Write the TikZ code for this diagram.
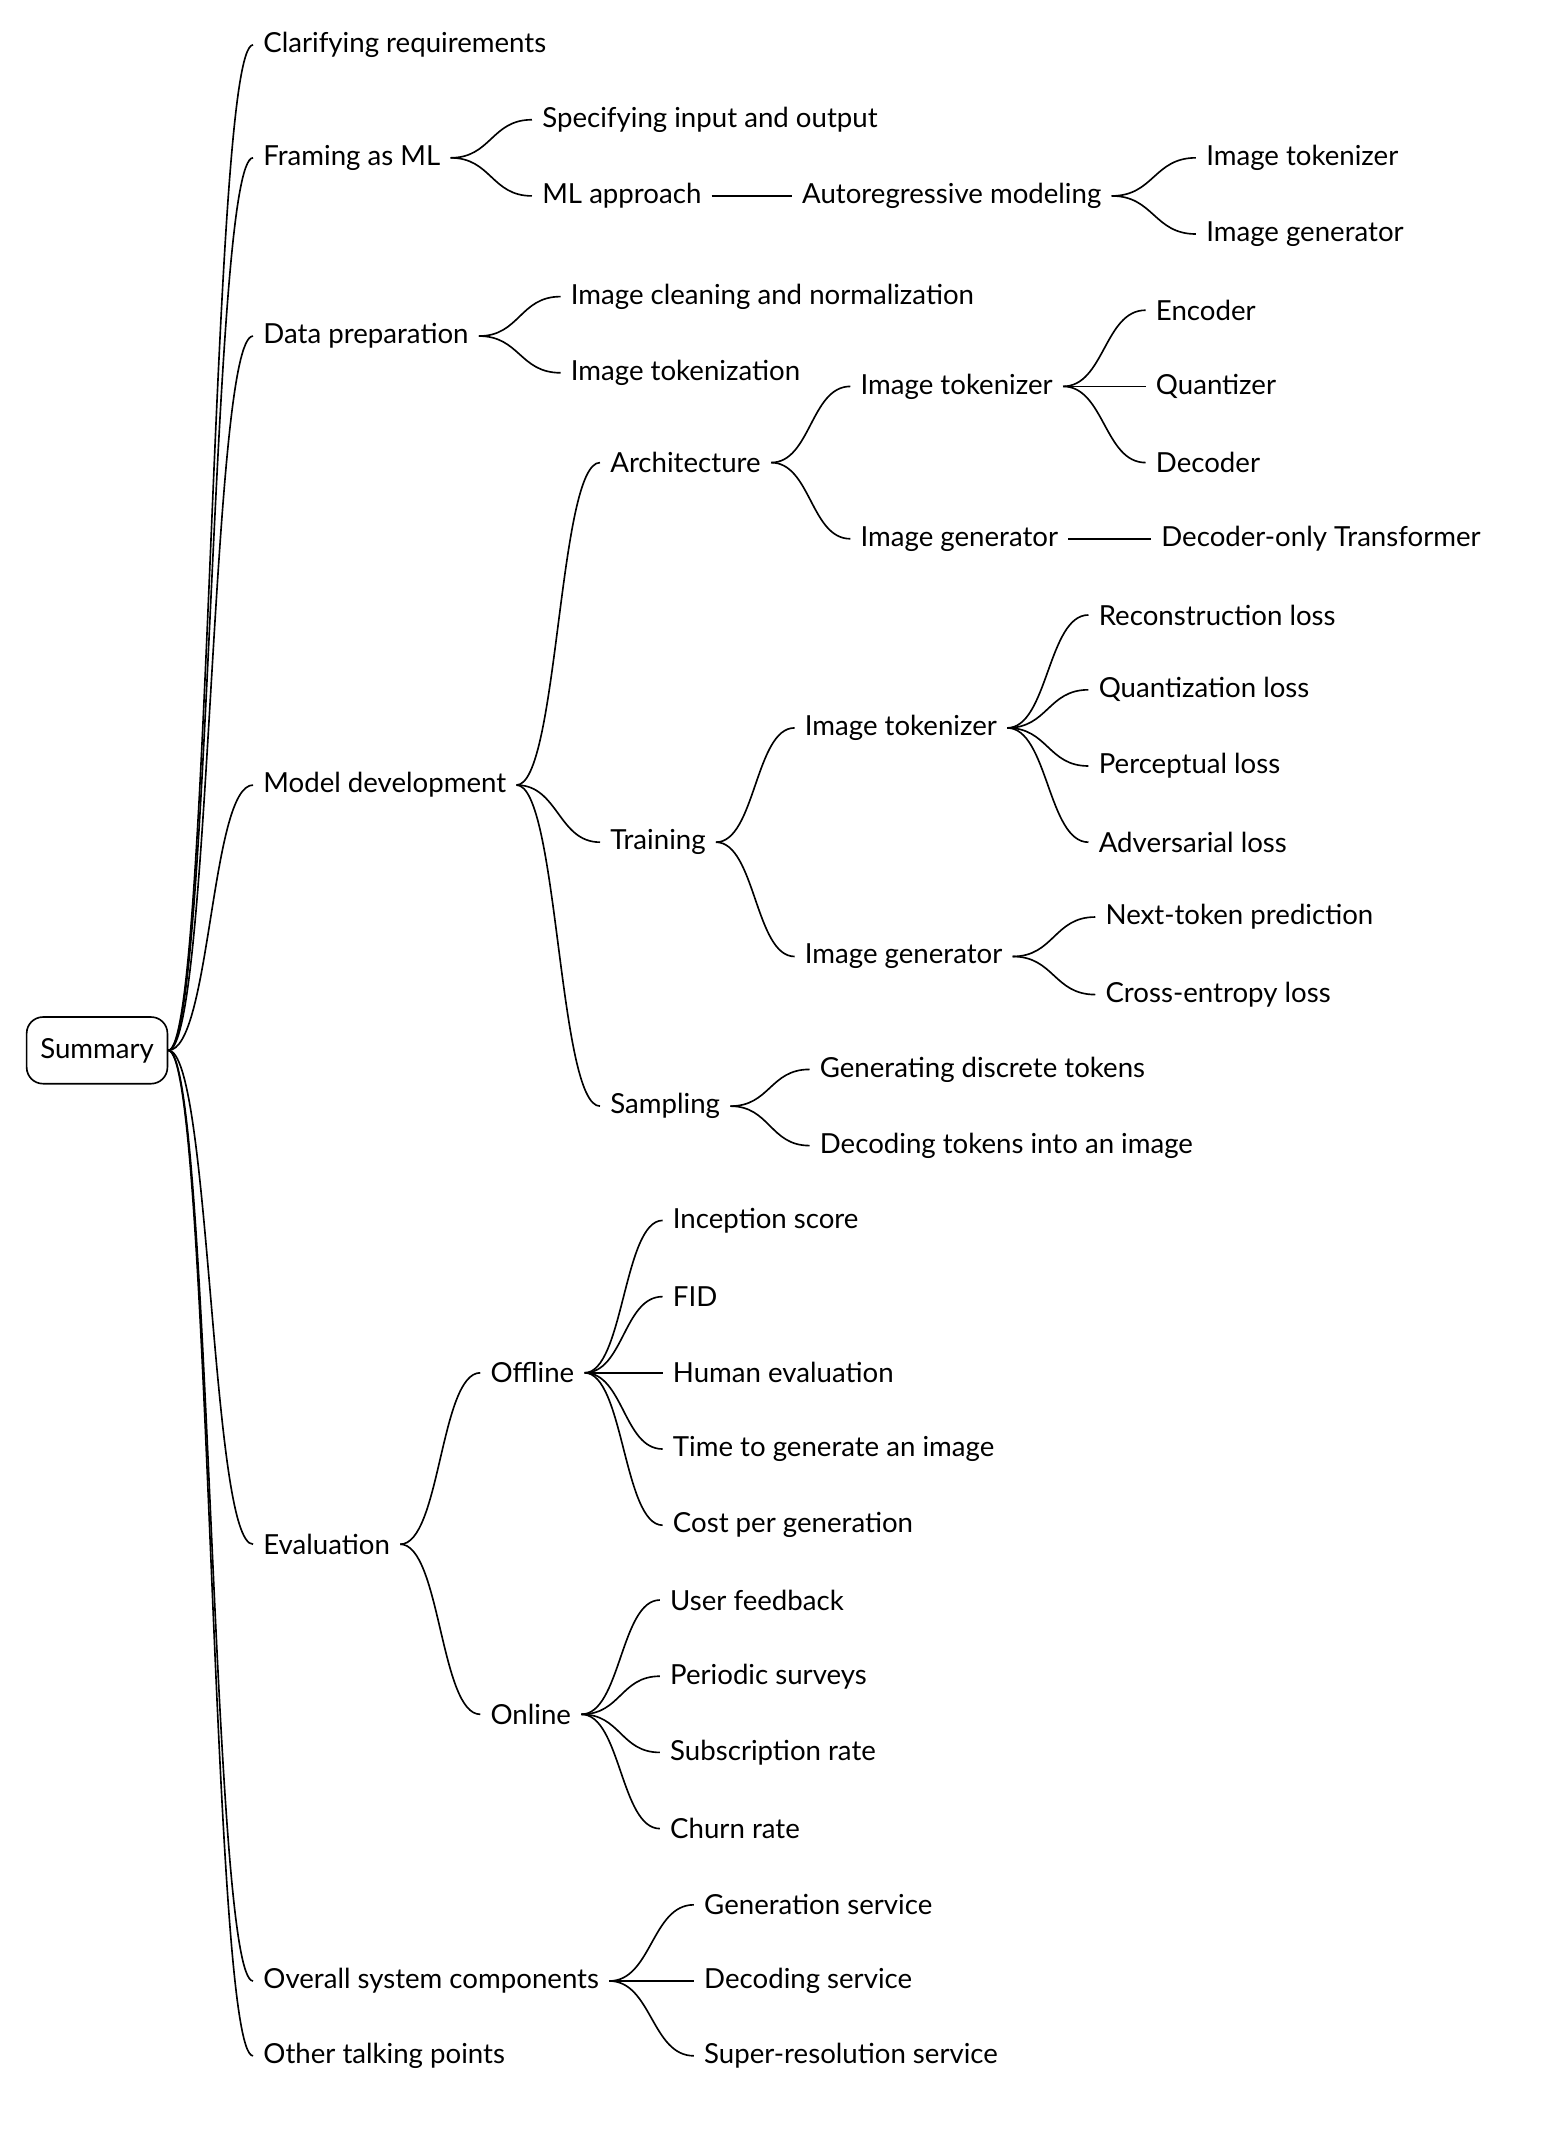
\documentclass[tikz,border=0pt]{standalone}
\usepackage{fontspec}
\setmainfont{Lato}
\usetikzlibrary{positioning,calc}

\begin{document}
\begin{tikzpicture}[x=1pt, y=1pt, line width = 1.2pt,
                    item/.style = {anchor = west, inner xsep = 7pt, inner ysep = 2pt,
                                   font = \fontsize{20.3}{24}\selectfont},
                    root/.style = {draw, rounded corners = 12pt, minimum height = 49pt,
                                   inner xsep = 10pt, font = \fontsize{20.3}{24}\selectfont}]
  \useasboundingbox (0,0) rectangle (1145,-1567);
  \node [root, anchor = west] (S) at (19,-772) {Summary};

  % first level
  \node [item] (L1) at (186,-33) {Clarifying requirements};
  \node [item] (L2) at (186,-116) {Framing as ML};
  \node [item] (L3) at (186,-247) {Data preparation};
  \node [item] (L4) at (186,-577) {Model development};
  \node [item] (L5) at (186,-1135) {Evaluation};
  \node [item] (L6) at (186,-1456) {Overall system components};
  \node [item] (L7) at (186,-1511) {Other talking points};

  % framing as ML
  \node [item] (F1) at (391,-88) {Specifying input and output};
  \node [item] (F2) at (391,-144) {ML approach};
  \node [item] (F3) at (582,-144) {Autoregressive modeling};
  \node [item] (F31) at (879,-116) {Image tokenizer};
  \node [item] (F32) at (879,-172) {Image generator};

  % data preparation
  \node [item] (D1) at (412,-218) {Image cleaning and normalization};
  \node [item] (D2) at (412,-274) {Image tokenization};

  % model development
  \node [item] (M1) at (441,-340) {Architecture};
  \node [item] (M2) at (441,-619) {Training};
  \node [item] (M3) at (441,-813) {Sampling};
  \node [item] (A1) at (625,-284) {Image tokenizer};
  \node [item] (A2) at (625,-396) {Image generator};
  \node [item] (A11) at (842,-228) {Encoder};
  \node [item] (A12) at (842,-284) {Quantizer};
  \node [item] (A13) at (842,-340) {Decoder};
  \node [item] (A21) at (846,-396) {Decoder-only Transformer};
  \node [item] (T1) at (584,-535) {Image tokenizer};
  \node [item] (T2) at (584,-703) {Image generator};
  \node [item] (T11) at (800,-452) {Reconstruction loss};
  \node [item] (T12) at (800,-507) {Quantization loss};
  \node [item] (T13) at (800,-563) {Perceptual loss};
  \node [item] (T14) at (800,-619) {Adversarial loss};
  \node [item] (T21) at (805,-674) {Next-token prediction};
  \node [item] (T22) at (805,-731) {Cross-entropy loss};
  \node [item] (P1) at (595,-786) {Generating discrete tokens};
  \node [item] (P2) at (595,-842) {Decoding tokens into an image};

  % evaluation
  \node [item] (E1) at (353,-1009) {Offline};
  \node [item] (E2) at (353,-1260) {Online};
  \node [item] (E11) at (487,-897) {Inception score};
  \node [item] (E12) at (487,-953) {FID};
  \node [item] (E13) at (487,-1009) {Human evaluation};
  \node [item] (E14) at (487,-1065) {Time to generate an image};
  \node [item] (E15) at (487,-1121) {Cost per generation};
  \node [item] (E21) at (485,-1176) {User feedback};
  \node [item] (E22) at (485,-1232) {Periodic surveys};
  \node [item] (E23) at (485,-1288) {Subscription rate};
  \node [item] (E24) at (485,-1344) {Churn rate};

  % system components
  \node [item] (C1) at (510,-1400) {Generation service};
  \node [item] (C2) at (510,-1456) {Decoding service};
  \node [item] (C3) at (510,-1511) {Super-resolution service};

  \foreach \a/\b in {S/L1, S/L2, S/L3, S/L4, S/L5, S/L6, S/L7,
                     L2/F1, L2/F2, F2/F3, F3/F31, F3/F32,
                     L3/D1, L3/D2,
                     L4/M1, L4/M2, L4/M3, M1/A1, M1/A2,
                     A1/A11, A1/A12, A1/A13, A2/A21,
                     M2/T1, M2/T2, T1/T11, T1/T12, T1/T13, T1/T14,
                     T2/T21, T2/T22, M3/P1, M3/P2,
                     L5/E1, L5/E2, E1/E11, E1/E12, E1/E13, E1/E14, E1/E15,
                     E2/E21, E2/E22, E2/E23, E2/E24,
                     L6/C1, L6/C2, L6/C3}
    \draw let \p1 = (\a.east), \p2 = (\b.west), \n1 = {(\x2-\x1)/2} in
      (\p1) .. controls +(\n1,0) and +(-\n1,0) .. (\p2);
\end{tikzpicture}
\end{document}
